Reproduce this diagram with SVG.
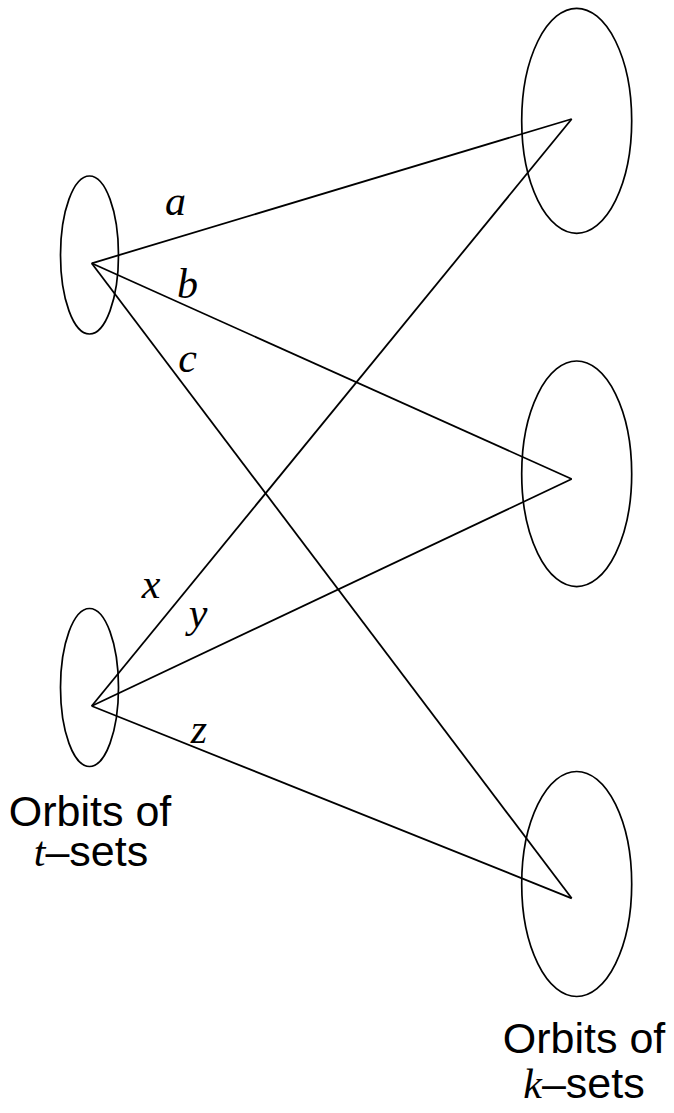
<svg xmlns="http://www.w3.org/2000/svg" width="674" height="1113" viewBox="0 0 674 1113">
<style>
.node ellipse{fill:none;stroke:#000;stroke-width:1.7}
#connectors line{stroke:#000;stroke-width:1.8}
.math{font-family:"Liberation Serif",serif;font-style:italic;font-size:42px;text-anchor:middle}
.cap{font-family:"Liberation Sans",Arial,sans-serif;font-size:43px;text-anchor:middle}
</style>
<rect width="674" height="1113" fill="#fff"/>
<g id="t-orbit-1" class="node"><ellipse cx="89.5" cy="255" rx="29" ry="79"/></g>
<g id="t-orbit-2" class="node"><ellipse cx="89.5" cy="687.5" rx="29" ry="79"/></g>
<g id="k-orbit-1" class="node"><ellipse cx="576.7" cy="120.8" rx="55" ry="112.5"/></g>
<g id="k-orbit-2" class="node"><ellipse cx="576.7" cy="473.8" rx="55" ry="112.8"/></g>
<g id="k-orbit-3" class="node"><ellipse cx="576.7" cy="884" rx="55" ry="112.5"/></g>
<g id="connectors">
<line x1="91.7" y1="263.3" x2="571.7" y2="119"/>
<line x1="91.7" y1="263.3" x2="571.7" y2="479"/>
<line x1="91.7" y1="263.3" x2="571.7" y2="898.3"/>
<line x1="91.7" y1="706" x2="571.7" y2="119"/>
<line x1="91.7" y1="706" x2="571.7" y2="479"/>
<line x1="91.7" y1="706" x2="571.7" y2="898.3"/>
</g>
<g id="labels">
<text class="math" x="175.5" y="215">a</text>
<text class="math" x="187.5" y="298">b</text>
<text class="math" x="187.5" y="372">c</text>
<text class="math" x="151" y="598">x</text>
<text class="math" x="198" y="627">y</text>
<text class="math" x="199" y="743">z</text>
<text class="cap" x="90" y="826">Orbits of</text>
<text class="cap" x="91" y="866"><tspan class="math" style="font-size:42px">t</tspan>–sets</text>
<text class="cap" x="584" y="1053">Orbits of</text>
<text class="cap" x="584" y="1098"><tspan class="math" style="font-size:42px">k</tspan>–sets</text>
</g>
</svg>
